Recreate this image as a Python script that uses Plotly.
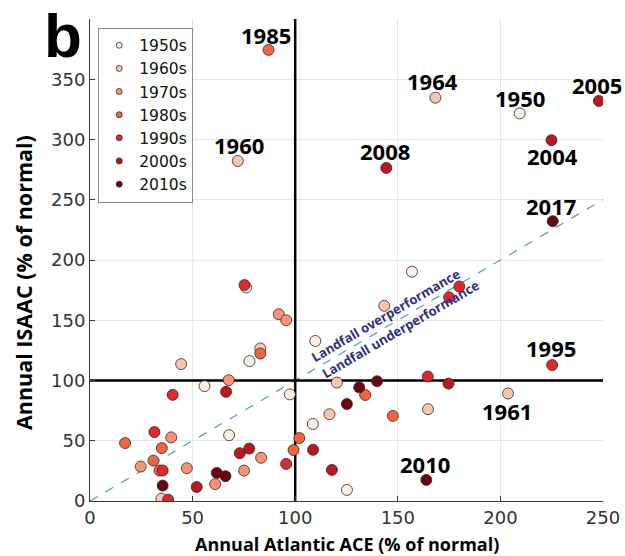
import plotly.graph_objects as go

# ---------------- data ----------------
decades = ["1950s", "1960s", "1970s", "1980s", "1990s", "2000s", "2010s"]
decade_colors = ["#fdeee6", "#fcc4aa", "#fc9272", "#f5633f", "#e2282a", "#bf151c", "#6d0511"]

ace_1950s = [209.4, 76.1, 109.8, 77.7, 55.8, 97.4, 67.8, 108.6, 125.2, 156.9]
isaac_1950s = [321.7, 177.2, 132.8, 116.1, 95.3, 88.5, 54.6, 63.9, 9.2, 190.3]

ace_1960s = [72.0, 203.7, 168.3, 83.0, 44.4, 34.8, 120.3, 116.7, 164.7, 143.4]
isaac_1960s = [282.2, 89.2, 334.7, 126.6, 113.6, 2.0, 98.3, 72.0, 76.2, 162.0]

ace_1970s = [67.6, 39.6, 24.7, 47.2, 61.0, 75.1, 83.4, 92.0, 95.6]
isaac_1970s = [100.3, 52.8, 28.6, 27.2, 14.0, 25.2, 35.9, 155.0, 150.0]

ace_1980s = [147.6, 99.2, 30.9, 17.1, 83.0, 87.0, 35.0, 33.9, 102.0, 134.1]
isaac_1980s = [70.6, 42.3, 33.5, 48.1, 122.4, 374.4, 43.9, 25.3, 52.2, 88.0]

ace_1990s = [75.3, 40.3, 31.4, 35.4, 38.1, 95.6, 225.2, 164.6, 180.0, 175.0]
isaac_1990s = [179.2, 88.1, 57.2, 25.3, 1.1, 30.8, 112.8, 103.3, 178.0, 169.0]

ace_2000s = [117.9, 108.7, 66.3, 174.7, 224.9, 248.0, 77.6, 73.0, 144.4, 52.0]
isaac_2000s = [25.8, 42.5, 90.6, 97.5, 299.4, 332.0, 43.5, 39.7, 276.4, 11.6]

ace_2010s = [163.9, 125.2, 131.2, 35.4, 66.0, 61.8, 139.9, 225.5]
isaac_2010s = [17.5, 80.5, 94.3, 12.8, 20.6, 23.3, 99.4, 232.2]

label_years = ["1985", "1964", "1950", "2005", "2004", "1960", "2008", "2017", "1995", "1961", "2010"]
label_ace = [87.0, 168.3, 209.4, 248.0, 224.9, 72.0, 144.4, 225.5, 225.2, 203.7, 163.9]
label_isaac = [374.4, 334.7, 321.7, 332.0, 299.4, 282.2, 276.4, 232.2, 112.8, 89.2, 17.5]

x_ticks = [0, 50, 100, 150, 200, 250]
y_ticks = [0, 50, 100, 150, 200, 250, 300, 350, 400]
y_ticktext = ["0", "50", "100", "150", "200", "250", "300", "350", ""]
NORMAL = 100

# ---------------- style ----------------
label_offsets = {  # (xshift, yshift) in px
    "1985": (-3, 15), "1964": (-3, 17), "1950": (0, 15), "2005": (-2, 16),
    "2004": (1, -16), "1960": (1, 16), "2008": (-1, 17), "2017": (-2, 15),
    "1995": (-1, 17), "1961": (-1, -17), "2010": (-1, 16),
}

ace_all = [ace_1950s, ace_1960s, ace_1970s, ace_1980s, ace_1990s, ace_2000s, ace_2010s]
isaac_all = [isaac_1950s, isaac_1960s, isaac_1970s, isaac_1980s, isaac_1990s, isaac_2000s, isaac_2010s]

fig = go.Figure()
for dec, xs, ys, col in zip(decades, ace_all, isaac_all, decade_colors):
    fig.add_trace(go.Scatter(
        x=xs, y=ys, mode="markers", showlegend=False, hoverinfo="skip",
        marker=dict(size=11, color=col, line=dict(color="#2a2a2a", width=0.8)),
    ))
for dec, col in zip(decades, decade_colors):
    fig.add_trace(go.Scatter(
        x=[None], y=[None], mode="markers", name=dec,
        marker=dict(size=6, color=col, line=dict(color="#2a2a2a", width=0.8)),
    ))

xmax = x_ticks[-1]
ymax = y_ticks[-1]
shapes = [
    dict(type="line", xref="x", yref="y", x0=0, y0=0, x1=xmax, y1=xmax,
         line=dict(color="#4f9fbf", width=1.2, dash="dash"), layer="between"),
    dict(type="line", xref="x", yref="y", x0=NORMAL, y0=0, x1=NORMAL, y1=ymax,
         line=dict(color="black", width=2.5), layer="between"),
    dict(type="line", xref="x", yref="y", x0=0, y0=NORMAL, x1=xmax, y1=NORMAL,
         line=dict(color="black", width=2.5), layer="between"),
]

annotations = []
for yr, xv, yv in zip(label_years, label_ace, label_isaac):
    dx, dy = label_offsets[yr]
    annotations.append(dict(
        x=xv, y=yv, xref="x", yref="y", text="<b>" + yr + "</b>", showarrow=False,
        xshift=dx, yshift=dy, font=dict(family="Open Sans", size=22, color="black"),
    ))

annotations += [
    dict(x=144.4, y=154, xref="x", yref="y", text="<b>Landfall overperformance</b>",
         showarrow=False, textangle=-30.4,
         font=dict(family="Open Sans", size=13, color="#2f2f7f")),
    dict(x=151.5, y=142.5, xref="x", yref="y", text="<b>Landfall underperformance</b>",
         showarrow=False, textangle=-30.4,
         font=dict(family="Open Sans", size=13, color="#2f2f7f")),
    dict(x=0.5, y=0, xref="paper", yref="paper", yanchor="middle", yshift=-43,
         text="<b>Annual Atlantic ACE (% of normal)</b>", showarrow=False,
         font=dict(family="Open Sans", size=18, color="black")),
    dict(x=0, y=0.5, xref="paper", yref="paper", xanchor="center", xshift=-67, yshift=-23,
         text="<b>Annual ISAAC (% of normal)</b>", showarrow=False, textangle=-90,
         font=dict(family="Open Sans", size=21.5, color="black")),
    dict(x=-0.052, y=1.0, xref="paper", yref="paper", xanchor="center", yanchor="middle",
         yshift=-16, text="<b>b</b>", showarrow=False,
         font=dict(family="Liberation Sans", size=62, color="black")),
]

axis_common = dict(
    showgrid=True, gridcolor="#e6e6e6", gridwidth=1, zeroline=False,
    showline=True, linecolor="#3a3a3a", linewidth=1, mirror=False,
    ticks="inside", ticklen=5, tickcolor="#3a3a3a", automargin=False,
    tickfont=dict(family="DejaVu Sans", size=18, color="#333333"),
)

fig.update_layout(
    width=625, height=556, autosize=False,
    margin=dict(l=90, r=22, t=19, b=55, pad=0, autoexpand=False),
    paper_bgcolor="white", plot_bgcolor="white",
    xaxis=dict(range=[0, xmax], tickvals=x_ticks, **axis_common),
    yaxis=dict(range=[0, ymax], tickvals=y_ticks, ticktext=y_ticktext, **axis_common),
    shapes=shapes, annotations=annotations,
    legend=dict(x=0.016, y=0.982, xanchor="left", yanchor="top",
                bgcolor="white", bordercolor="#8a8a8a", borderwidth=1,
                font=dict(family="DejaVu Sans", size=15.5, color="#111111"),
                tracegroupgap=0, itemwidth=30),
)

fig.write_html("out.html")
